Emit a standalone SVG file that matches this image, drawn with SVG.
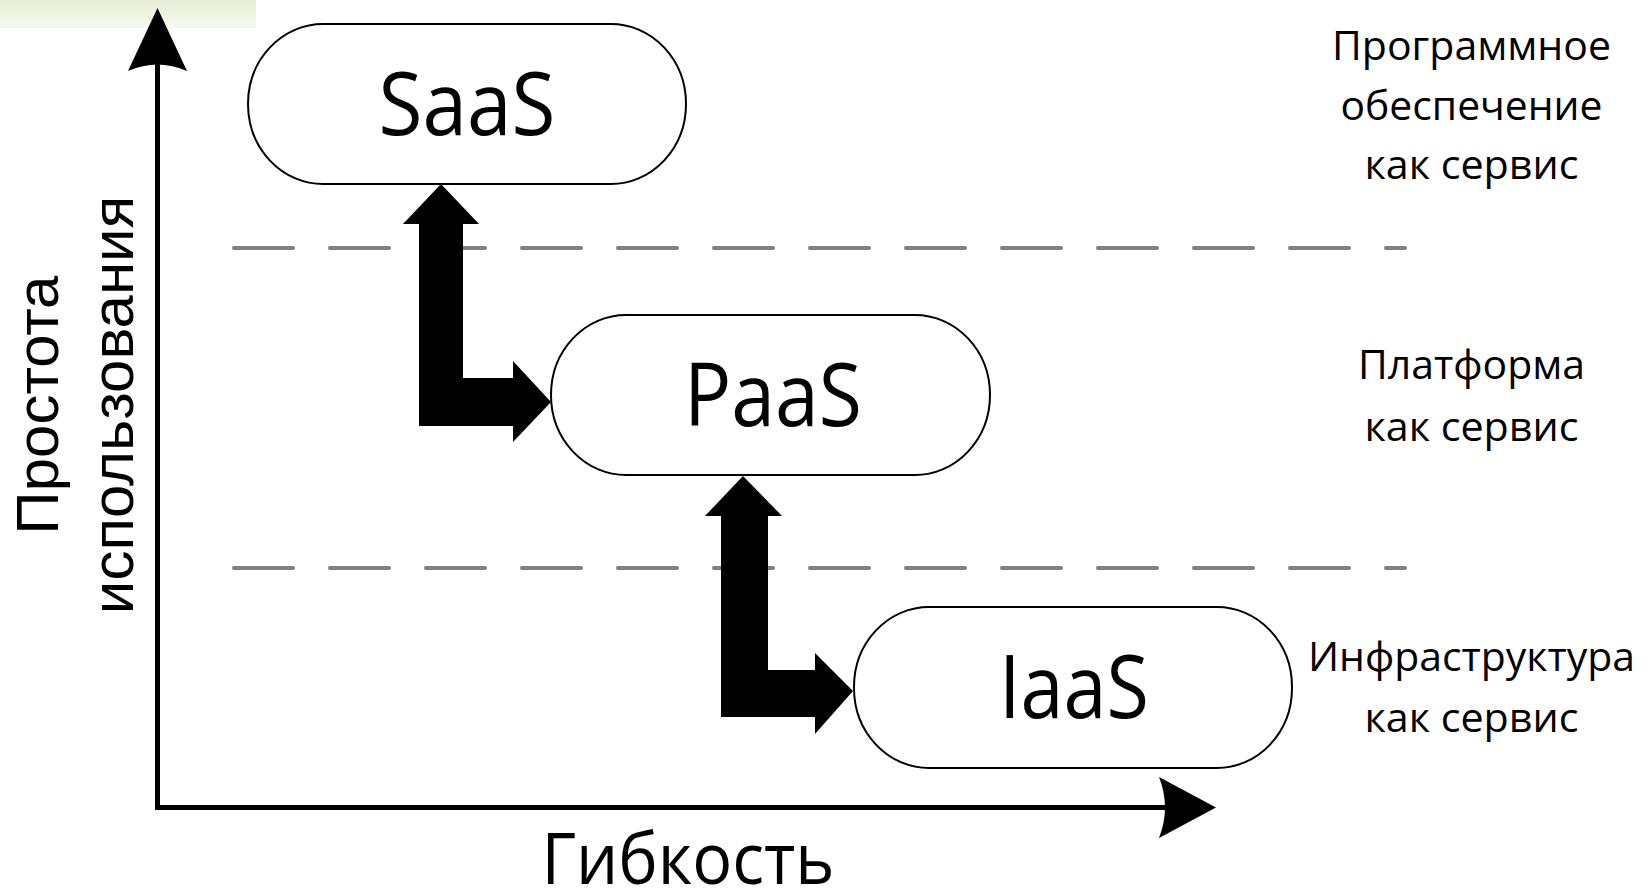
<svg xmlns="http://www.w3.org/2000/svg" width="1651" height="889" viewBox="0 0 1651 889">
  <defs>
    <linearGradient id="topbar" x1="0" y1="0" x2="0" y2="1">
      <stop offset="0" stop-color="#e6edd6"/>
      <stop offset="1" stop-color="#f7f9f1"/>
    </linearGradient>
  </defs>
  <style>
    .box { fill: #ffffff; stroke: #000000; stroke-width: 2; }
    .big { font-family: "Open Sans", "Noto Sans", sans-serif; font-size: 87px; fill: #000; text-anchor: middle; }
    .lbl { font-family: "Open Sans", "Noto Sans", sans-serif; font-size: 40px; fill: #000; text-anchor: middle; }
    .ylbl { font-family: "Liberation Sans", Arial, sans-serif; font-size: 60px; fill: #000; text-anchor: middle; }
    .xlbl { font-family: "Open Sans", "Noto Sans", sans-serif; font-size: 71px; fill: #000; text-anchor: middle; }
    .dash { stroke: #808080; stroke-width: 4; stroke-linecap: round; stroke-dasharray: 59 37; fill: none; }
    .axis { stroke: #000; stroke-width: 5; fill: none; stroke-linejoin: miter; }
    .conn { fill: #000; stroke: none; }
  </style>

  <rect x="0" y="0" width="651" height="889" fill="#ffffff"/>
  <rect x="651" y="0" width="1000" height="889" fill="#ffffff"/>
  <rect x="0" y="0" width="256" height="28" fill="url(#topbar)"/>

  <g id="separators">
    <line class="dash" x1="234" y1="248" x2="1405" y2="248"/>
    <line class="dash" x1="234" y1="568" x2="1405" y2="568"/>
  </g>

  <g id="axes">
    <path class="axis" d="M157.5,62 V807.5 H1168"/>
    <path d="M157.5,8 L187,71 Q157.5,58 128,71 Z" fill="#000"/>
    <path d="M1216,807.5 L1159,777 Q1171,807.5 1159,838 Z" fill="#000"/>
    <text class="ylbl" transform="translate(58,405) rotate(-90)">Простота</text>
    <text class="ylbl" transform="translate(133,405) rotate(-90)">использования</text>
    <text class="xlbl" x="688" y="884" textLength="293" lengthAdjust="spacingAndGlyphs">Гибкость</text>
  </g>

  <g id="connectors">
    <polygon class="conn" points="441,184 479,224 463,224 463,378 513,378 513,361 551,402 513,442 513,426 419,426 419,224 403,224"/>
    <polygon class="conn" points="743,476 782,516 768,516 768,670 815,670 815,653 853,691 815,734 815,717 721,717 721,516 705,516"/>
  </g>

  <g id="saas">
    <rect class="box" x="248" y="24" width="438" height="160" rx="75" ry="80"/>
    <text class="big" x="467" y="135" textLength="177" lengthAdjust="spacingAndGlyphs">SaaS</text>
  </g>

  <g id="paas">
    <rect class="box" x="551" y="315" width="439" height="160" rx="75" ry="80"/>
    <text class="big" x="773" y="426" textLength="178" lengthAdjust="spacingAndGlyphs">PaaS</text>
  </g>

  <g id="iaas">
    <rect class="box" x="854" y="607" width="438" height="161" rx="75" ry="80"/>
    <text class="big" x="1074" y="718" textLength="150" lengthAdjust="spacingAndGlyphs">IaaS</text>
  </g>

  <g id="label-saas">
    <text class="lbl" x="1471.5" y="60" textLength="279" lengthAdjust="spacingAndGlyphs">Программное</text>
    <text class="lbl" x="1471.5" y="119.5" textLength="262" lengthAdjust="spacingAndGlyphs">обеспечение</text>
    <text class="lbl" x="1471.5" y="178.5" textLength="214" lengthAdjust="spacingAndGlyphs">как сервис</text>
  </g>

  <g id="label-paas">
    <text class="lbl" x="1471.5" y="379" textLength="227" lengthAdjust="spacingAndGlyphs">Платформа</text>
    <text class="lbl" x="1471.5" y="441" textLength="214" lengthAdjust="spacingAndGlyphs">как сервис</text>
  </g>

  <g id="label-iaas">
    <text class="lbl" x="1471.5" y="671" textLength="327" lengthAdjust="spacingAndGlyphs">Инфраструктура</text>
    <text class="lbl" x="1471.5" y="732" textLength="214" lengthAdjust="spacingAndGlyphs">как сервис</text>
  </g>
</svg>
